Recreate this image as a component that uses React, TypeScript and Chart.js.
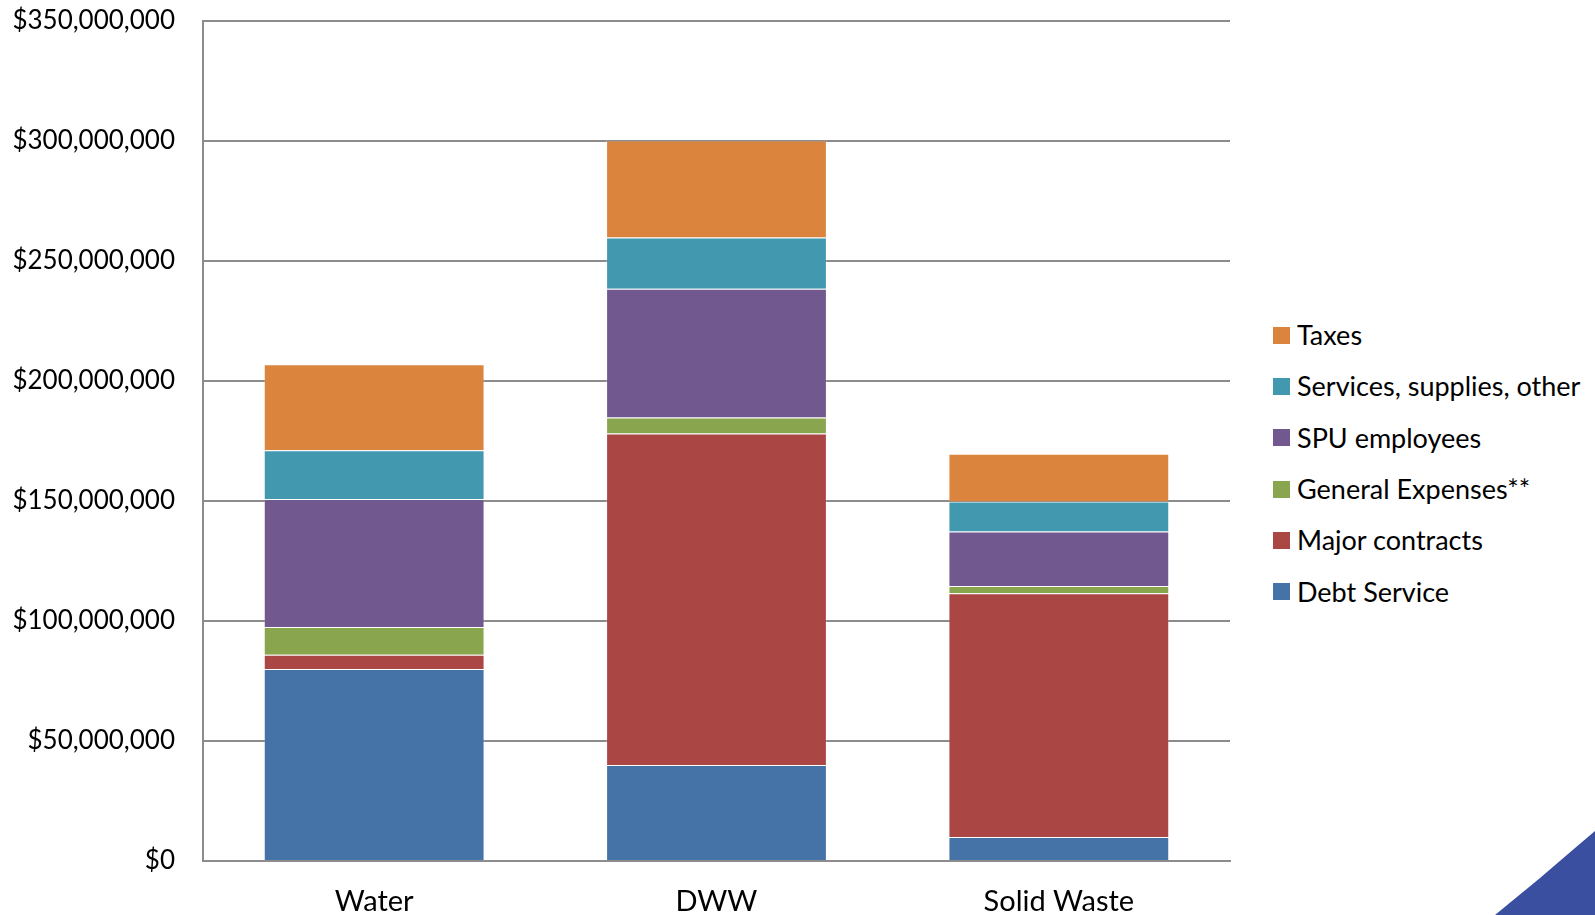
import React, { useEffect, useRef } from "react";
import { Chart, registerables } from "chart.js";

Chart.register(...registerables);

const categories = ["Water", "DWW", "Solid Waste"];

const debtService = [80000000, 40000000, 10000000];
const majorContracts = [5900000, 138000000, 101500000];
const generalExpenses = [11600000, 6700000, 3000000];
const spuEmployees = [53300000, 53600000, 22750000];
const servicesSupplies = [20300000, 21400000, 12500000];
const taxes = [35800000, 40400000, 19850000];

const seriesNames = [
  "Debt Service",
  "Major contracts",
  "General Expenses**",
  "SPU employees",
  "Services, supplies, other",
  "Taxes",
];
const seriesColors = ["#4572A7", "#AA4643", "#89A54E", "#71588F", "#4198AF", "#DB843D"];
const seriesValues = [debtService, majorContracts, generalExpenses, spuEmployees, servicesSupplies, taxes];

const yMin = 0;
const yMax = 350000000;
const yStep = 50000000;

const FONT = "Lato, 'Open Sans', sans-serif";

export default function App() {
  const canvasRef = useRef<HTMLCanvasElement | null>(null);

  useEffect(() => {
    const canvas = canvasRef.current;
    if (!canvas) return;
    const chart = new Chart(canvas, {
      type: "bar",
      data: {
        labels: categories,
        datasets: seriesValues.map((vals, i) => ({
          label: seriesNames[i],
          data: vals,
          backgroundColor: seriesColors[i],
          borderColor: "rgba(255,255,255,0.2)",
          borderWidth: 1,
          categoryPercentage: 0.645,
          barPercentage: 1,
        })),
      },
      options: {
        responsive: false,
        animation: false,
        devicePixelRatio: 1,
        layout: { padding: { top: 0, right: 20, bottom: 0, left: 0 } },
        plugins: {
          legend: { display: false },
          tooltip: { enabled: false },
        },
        scales: {
          x: {
            stacked: true,
            grid: { display: false, drawTicks: false },
            border: { display: true, color: "#8c8c8c", width: 2 },
            ticks: {
              color: "#000",
              font: { family: FONT, size: 29 },
              padding: 23,
            },
            afterFit: (scale: any) => {
              scale.height = 54;
            },
          },
          y: {
            stacked: true,
            min: yMin,
            max: yMax,
            grid: { color: "#8c8c8c", lineWidth: 2, drawTicks: false },
            border: { display: true, color: "#8c8c8c", width: 2 },
            ticks: {
              stepSize: yStep,
              color: "#000",
              font: { family: FONT, size: 26 },
              padding: 28,
              callback: (v: any) => "$" + Number(v).toLocaleString("en-US"),
            },
            afterFit: (scale: any) => {
              scale.width = 203;
            },
          },
        },
      },
    });
    return () => chart.destroy();
  }, []);

  const legendOrder = [5, 4, 3, 2, 1, 0];

  return (
    <div
      style={{
        position: "absolute",
        left: 0,
        top: 0,
        width: 1595,
        height: 915,
        overflow: "hidden",
        background: "#fff",
        fontFamily: FONT,
      }}
    >
      <div style={{ position: "absolute", left: 0, top: -23, width: 1250, height: 938 }}>
        <canvas ref={canvasRef} width={1250} height={938} style={{ display: "block" }} />
      </div>
      <div style={{ position: "absolute", left: 1273, top: 309.5 }}>
        {legendOrder.map((i) => (
          <div
            key={i}
            style={{ display: "flex", alignItems: "center", height: 51.3, whiteSpace: "nowrap" }}
          >
            <span
              style={{
                display: "inline-block",
                width: 17,
                height: 17,
                background: seriesColors[i],
                marginRight: 7,
              }}
            />
            <span style={{ fontSize: 27, color: "#000", lineHeight: "30px" }}>{seriesNames[i]}</span>
          </div>
        ))}
      </div>
      <div
        style={{
          position: "absolute",
          left: 0,
          top: 0,
          width: 1595,
          height: 915,
          background: "#3A4FA0",
          clipPath: "polygon(1495px 915px, 1540px 878px, 1575px 848px, 1595px 831px, 1595px 915px)",
        }}
      />
    </div>
  );
}
